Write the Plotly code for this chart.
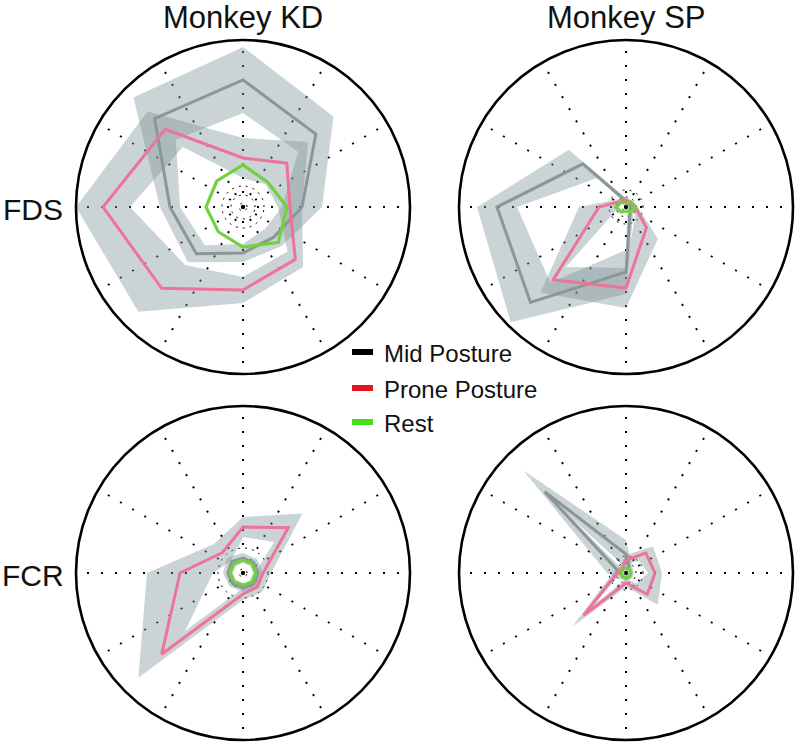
import plotly.graph_objects as go

W, H = 798, 742

# ---------------- data (radial units; outer circle = 167) ----------------
angles = [0, 45, 90, 135, 180, 225, 270, 315]
r_max = 167

# Monkey KD, FDS
kd_fds_mid_mean = [59, 103, 127, 125, 73, 66, 46, 43]
kd_fds_mid_sem = [20, 25, 33, 30, 10, 12, 9, 12]
kd_fds_prone_mean = [47, 62, 49, 110, 140, 115, 83, 74]
kd_fds_prone_sem = [12, 30, 20, 25, 27, 33, 13, 11]
kd_fds_rest_mean = [44, 35, 42, 37, 37, 35, 40, 50]
kd_fds_rest_sem = [1, 1, 1, 1, 1, 1, 1, 1]
kd_fds_grid = [4, 12, 21]

# Monkey SP, FDS
sp_fds_mid_mean = [5, 4, 6, 61, 129, 135, 65, 6]
sp_fds_mid_sem = [3, 3, 3, 20, 20, 28, 22, 4]
sp_fds_prone_mean = [9, 6, 7, 8, 27, 103, 81, 29]
sp_fds_prone_sem = [3, 3, 3, 3, 20, 18, 20, 16]
sp_fds_rest_mean = [10, 7, 4, 7, 10, 7, 4, 7]
sp_fds_rest_sem = [1, 1, 1, 1, 1, 1, 1, 1]
sp_fds_grid = [4, 10, 17]

# Monkey KD, FCR
kd_fcr_mid_mean = [15, 15, 15, 16, 15, 15, 15, 15]
kd_fcr_mid_sem = [5, 5, 5, 6, 5, 4, 4, 5]
kd_fcr_prone_mean = [20, 64, 46, 29, 63, 115, 21, 20]
kd_fcr_prone_sem = [8, 20, 10, 12, 33, 33, 6, 7]
kd_fcr_rest_mean = [13, 13, 13, 13, 13, 12, 12, 13]
kd_fcr_rest_sem = [1, 1, 1, 1, 1, 1, 1, 1]
kd_fcr_grid = [4, 15, 25]

# Monkey SP, FCR
sp_fcr_mid_mean = [5, 5, 19, 115, 6, 5, 5, 5]
sp_fcr_mid_sem = [3, 4, 14, 30, 13, 4, 3, 3]
sp_fcr_prone_mean = [29, 28, 13, 6, 9, 60, 10, 30]
sp_fcr_prone_sem = [7, 10, 5, 3, 4, 16, 4, 15]
sp_fcr_rest_mean = [5, 5, 5, 5, 5, 5, 5, 5]
sp_fcr_rest_sem = [1, 1, 1, 1, 1, 1, 1, 1]
sp_fcr_grid = [4, 10, 17]

col_titles = ["Monkey KD", "Monkey SP"]
row_titles = ["FDS", "FCR"]
legend_labels = ["Mid Posture", "Prone Posture", "Rest"]

# ---------------- styles ----------------
band_fill = "rgba(128,150,156,0.42)"
line_colors = {"mid": "#8c9696", "prone": "#ef7398", "rest": "#72d13e"}
legend_colors = ["#000000", "#e3161d", "#46e01a"]
FONT = "Liberation Sans, Arial, Helvetica, sans-serif"

panels = [
    ("polar", (76, 410), (40, 374),
     {"mid": (kd_fds_mid_mean, kd_fds_mid_sem), "prone": (kd_fds_prone_mean, kd_fds_prone_sem),
      "rest": (kd_fds_rest_mean, kd_fds_rest_sem)}, kd_fds_grid),
    ("polar2", (459, 793), (40, 374),
     {"mid": (sp_fds_mid_mean, sp_fds_mid_sem), "prone": (sp_fds_prone_mean, sp_fds_prone_sem),
      "rest": (sp_fds_rest_mean, sp_fds_rest_sem)}, sp_fds_grid),
    ("polar3", (76, 410), (406, 740),
     {"mid": (kd_fcr_mid_mean, kd_fcr_mid_sem), "prone": (kd_fcr_prone_mean, kd_fcr_prone_sem),
      "rest": (kd_fcr_rest_mean, kd_fcr_rest_sem)}, kd_fcr_grid),
    ("polar4", (459, 793), (406, 740),
     {"mid": (sp_fcr_mid_mean, sp_fcr_mid_sem), "prone": (sp_fcr_prone_mean, sp_fcr_prone_sem),
      "rest": (sp_fcr_rest_mean, sp_fcr_rest_sem)}, sp_fcr_grid),
]

fig = go.Figure()
layout_polars = {}

for name, (x0, x1), (y0, y1), series, grid in panels:
    # bands: one quad per segment so overlaps darken
    for key in ["mid", "prone"]:
        mean, sem = series[key]
        n = len(angles)
        for i in range(n):
            j = (i + 1) % n
            ai, aj = angles[i], angles[j] if j != 0 else 360
            oi, oj = mean[i] + sem[i], mean[j] + sem[j]
            ii, ij = max(mean[i] - sem[i], 0), max(mean[j] - sem[j], 0)
            fig.add_trace(go.Scatterpolar(
                r=[oi, oj, ij, ii, oi], theta=[ai, aj, aj, ai, ai],
                mode="lines", fill="toself", fillcolor=band_fill,
                line=dict(width=0, color="rgba(0,0,0,0)"),
                subplot=name, showlegend=False, hoverinfo="skip"))
    for key, lw in [("mid", 3), ("prone", 3), ("rest", 3.2)]:
        mean, sem = series[key]
        fig.add_trace(go.Scatterpolar(
            r=list(mean) + [mean[0]], theta=list(angles) + [360],
            mode="lines", line=dict(color=line_colors[key], width=lw),
            subplot=name, showlegend=False, hoverinfo="skip"))
    layout_polars[name] = dict(
        domain=dict(x=[x0 / W, x1 / W], y=[1 - y1 / H, 1 - y0 / H]),
        bgcolor="white",
        radialaxis=dict(range=[0, r_max], tickvals=grid, showticklabels=False, ticks="",
                        showline=False, showgrid=True, gridcolor="black", gridwidth=1.4,
                        griddash="2px,5px"),
        angularaxis=dict(dtick=30, showticklabels=False, ticks="", showline=True,
                         linecolor="black", linewidth=2.6, showgrid=True, gridcolor="black",
                         gridwidth=1.8, griddash="2px,12px", direction="counterclockwise",
                         rotation=0),
    )

annotations = []
for cx, txt in zip([243, 626], col_titles):
    annotations.append(dict(x=cx / W, y=1 - 17 / H, xref="paper", yref="paper", text=txt,
                            showarrow=False, font=dict(size=31, family=FONT, color="#111"),
                            xanchor="center", yanchor="middle"))
for cy, txt in zip([209, 575], row_titles):
    annotations.append(dict(x=33 / W, y=1 - cy / H, xref="paper", yref="paper", text=txt,
                            showarrow=False, font=dict(size=30, family=FONT, color="#111"),
                            xanchor="center", yanchor="middle"))

shapes = []
leg_y = [352, 388, 422]
for ly, lab, lc in zip(leg_y, legend_labels, legend_colors):
    shapes.append(dict(type="line", xref="paper", yref="paper", x0=352 / W, x1=373 / W,
                       y0=1 - ly / H, y1=1 - ly / H, line=dict(color=lc, width=6)))
    annotations.append(dict(x=382 / W, y=1 - (ly + 1) / H, xref="paper", yref="paper", text=lab,
                            showarrow=False, font=dict(size=24, family=FONT, color="#111"),
                            xanchor="left", yanchor="middle"))

fig.update_layout(width=W, height=H, margin=dict(l=0, r=0, t=0, b=0),
                  paper_bgcolor="white", plot_bgcolor="white", showlegend=False,
                  annotations=annotations, shapes=shapes, **layout_polars)

fig.write_html("out.html", config={"displayModeBar": False},
               post_script="document.body.style.margin='0px';document.body.style.overflow='hidden';")
